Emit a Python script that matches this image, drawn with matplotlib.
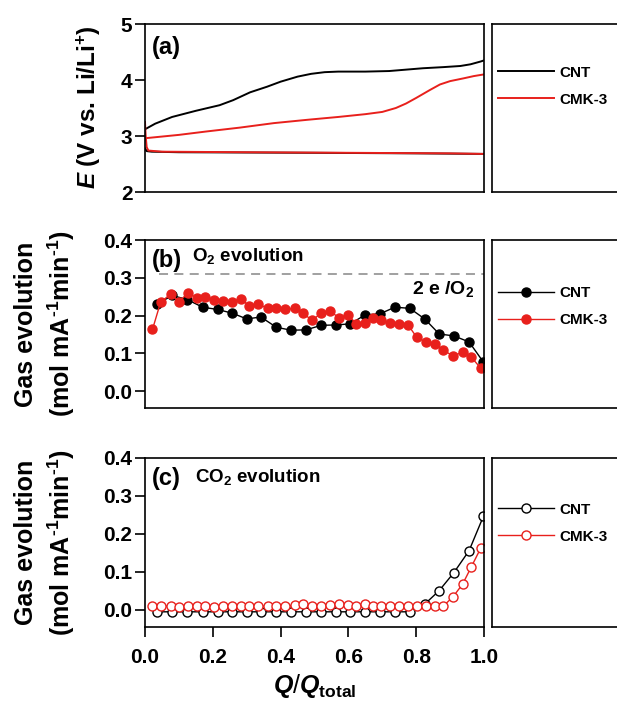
import matplotlib
matplotlib.use("Agg")
import matplotlib.pyplot as plt

plt.rcParams["font.family"] = ["Liberation Sans", "DejaVu Sans"]
plt.rcParams["font.weight"] = "bold"
plt.rcParams["mathtext.fontset"] = "custom"
plt.rcParams["mathtext.rm"] = "Liberation Sans:bold"
plt.rcParams["mathtext.it"] = "Liberation Sans:italic:bold"
plt.rcParams["mathtext.bf"] = "Liberation Sans:bold"

# (a) potential profiles
cnt_chg_x = [0.0, 0.03, 0.08, 0.15, 0.22, 0.26, 0.31, 0.36, 0.40, 0.45, 0.49, 0.53,
             0.57, 0.65, 0.72, 0.78, 0.82, 0.88, 0.93, 0.96, 0.99, 1.0]
cnt_chg_e = [3.12, 3.22, 3.34, 3.45, 3.55, 3.64, 3.78, 3.88, 3.97, 4.06, 4.11, 4.14,
             4.15, 4.15, 4.16, 4.19, 4.21, 4.23, 4.25, 4.28, 4.33, 4.35]
cmk_chg_x = [0.0, 0.1, 0.18, 0.28, 0.38, 0.48, 0.57, 0.65, 0.70, 0.74, 0.77, 0.80,
             0.84, 0.87, 0.90, 0.94, 0.97, 1.0]
cmk_chg_e = [2.96, 3.02, 3.08, 3.15, 3.23, 3.29, 3.34, 3.39, 3.43, 3.50, 3.58, 3.68,
             3.82, 3.92, 3.98, 4.03, 4.07, 4.10]
cnt_dis_x = [0.0, 0.005, 0.02, 0.1, 0.5, 0.8, 1.0]
cnt_dis_e = [2.78, 2.73, 2.72, 2.71, 2.70, 2.69, 2.68]
cmk_dis_x = [0.0, 0.002, 0.005, 0.01, 0.05, 0.3, 0.6, 0.9, 1.0]
cmk_dis_e = [3.25, 3.0, 2.80, 2.74, 2.72, 2.71, 2.70, 2.69, 2.68]

# (b), (c) gas evolution
cnt_x = [0.036, 0.081, 0.125, 0.170, 0.214, 0.258, 0.300, 0.342, 0.387, 0.431, 0.475,
         0.520, 0.564, 0.606, 0.650, 0.692, 0.737, 0.781, 0.825, 0.868, 0.911, 0.956, 0.998]
cnt_o2 = [0.231, 0.253, 0.242, 0.222, 0.216, 0.206, 0.191, 0.196, 0.169, 0.161, 0.162,
          0.174, 0.175, 0.178, 0.202, 0.204, 0.222, 0.219, 0.191, 0.151, 0.146, 0.130, 0.077]
cnt_co2 = [-0.005] * 18 + [0.015, 0.051, 0.098, 0.156, 0.246]

cmk_x = [0.022, 0.046, 0.076, 0.100, 0.128, 0.152, 0.178, 0.204, 0.231, 0.256, 0.283,
         0.308, 0.332, 0.362, 0.387, 0.414, 0.442, 0.465, 0.493, 0.520, 0.546, 0.572,
         0.599, 0.623, 0.648, 0.672, 0.697, 0.724, 0.749, 0.776, 0.801, 0.828, 0.855,
         0.880, 0.909, 0.937, 0.963, 0.990]
cmk_o2 = [0.163, 0.235, 0.257, 0.237, 0.260, 0.246, 0.248, 0.242, 0.239, 0.237, 0.244,
          0.225, 0.231, 0.219, 0.219, 0.216, 0.219, 0.207, 0.187, 0.207, 0.213, 0.193,
          0.202, 0.178, 0.180, 0.193, 0.187, 0.180, 0.178, 0.175, 0.143, 0.130, 0.125,
          0.108, 0.093, 0.103, 0.089, 0.061]
cmk_co2 = [0.010, 0.010, 0.010, 0.008, 0.010, 0.010, 0.010, 0.008, 0.010, 0.010, 0.010,
           0.010, 0.010, 0.010, 0.010, 0.010, 0.012, 0.015, 0.010, 0.010, 0.012, 0.015,
           0.012, 0.010, 0.015, 0.010, 0.010, 0.010, 0.010, 0.010, 0.010, 0.010, 0.010,
           0.010, 0.035, 0.068, 0.114, 0.162]

red = "#e8201c"
W, H = 617, 713
fig = plt.figure(figsize=(W / 100, H / 100), dpi=100)


def box(l, t, r, b):
    return [l / W, 1 - b / H, (r - l) / W, (b - t) / H]


rows = [(24, 192), (240, 408), (458, 627)]
axs = [fig.add_axes(box(145, t, 484, b)) for t, b in rows]
legs = [fig.add_axes(box(492, t, 630, b)) for t, b in rows]

# ---- (a)
ax = axs[0]
ax.plot(cnt_dis_x, cnt_dis_e, color="black", lw=1.4)
ax.plot(cnt_chg_x, cnt_chg_e, color="black", lw=1.4, label="CNT")
ax.plot(cmk_dis_x, cmk_dis_e, color=red, lw=1.4)
ax.plot(cmk_chg_x, cmk_chg_e, color=red, lw=1.4, label="CMK-3")
ax.set_ylim(2, 5)
ax.set_yticks([2, 3, 4, 5])
ax.text(0.02, 0.86, "(a)", transform=ax.transAxes, fontsize=17, va="center")

# ---- (b)
ax = axs[1]
ax.plot(cnt_x, cnt_o2, "-o", color="black", ms=6.5, lw=1, label="CNT")
ax.plot(cmk_x, cmk_o2, "-o", color=red, ms=6.5, lw=1, label="CMK-3")
ax.plot([0.04, 1.0], [0.31, 0.31], "--", color="#999999", lw=1.3, dashes=(5, 3.5))
ax.text(0.02, 0.875, "(b)", transform=ax.transAxes, fontsize=17, va="center")
ax.text(0.14, 0.905, "O$_2$ evolution", transform=ax.transAxes, fontsize=13.5, va="center")
ax.text(0.97, 0.271, "2 e /O$_2$", ha="right", va="center", fontsize=14)

# ---- (c)
ax = axs[2]
ax.plot(cnt_x, cnt_co2, "-o", color="black", mfc="white", ms=6.5, lw=1, label="CNT")
ax.plot(cmk_x, cmk_co2, "-o", color=red, mfc="white", ms=6.5, lw=1, label="CMK-3")
ax.text(0.02, 0.88, "(c)", transform=ax.transAxes, fontsize=17, va="center")
ax.text(0.148, 0.89, "CO$_2$ evolution", transform=ax.transAxes, fontsize=13.5, va="center")

for ax in axs:
    ax.set_xlim(0, 1)
    ax.tick_params(direction="out", length=7, width=1.2, labelsize=15, pad=2)
    for s in ax.spines.values():
        s.set_linewidth(1.2)
for ax in axs[1:]:
    ax.set_ylim(-0.045, 0.4)
    ax.set_yticks([0.0, 0.1, 0.2, 0.3, 0.4])
    ax.set_yticklabels(["0.0", "0.1", "0.2", "0.3", "0.4"])
for ax in axs[:2]:
    ax.tick_params(axis="x", bottom=False, labelbottom=False)
axs[2].set_xticks([0, 0.2, 0.4, 0.6, 0.8, 1.0])
axs[2].set_xticklabels(["0.0", "0.2", "0.4", "0.6", "0.8", "1.0"])
axs[2].tick_params(axis="x", pad=8)
axs[2].set_xlabel("$Q$/$Q_{\\mathrm{total}}$", fontsize=18, labelpad=4)

anchors = [0.752, 0.725, 0.735]
for lg, ax, yy in zip(legs, axs, anchors):
    lg.set_xticks([])
    lg.set_yticks([])
    for s in lg.spines.values():
        s.set_linewidth(1.2)
    h, l = ax.get_legend_handles_labels()
    lg.legend(h, l, loc="upper left", bbox_to_anchor=(0.043, yy), frameon=False,
              fontsize=11, handlelength=3.7, handletextpad=0.3, labelspacing=0.85,
              borderpad=0, borderaxespad=0, numpoints=1)

fig.text(89 / W, 1 - 107 / H, "$E$ (V vs. Li/Li$^{+}$)", rotation=90,
         ha="center", va="center", fontsize=17.5)
for t, b in rows[1:]:
    yc = 1 - (t + b) / 2 / H
    fig.text(26 / W, yc, "Gas evolution", rotation=90, ha="center", va="center", fontsize=18)
    fig.text(61 / W, yc, "(mol mA$^{\\text{-}1}$min$^{\\text{-}1}$)", rotation=90,
             ha="center", va="center", fontsize=18)

fig.savefig("out.png", dpi=100)
